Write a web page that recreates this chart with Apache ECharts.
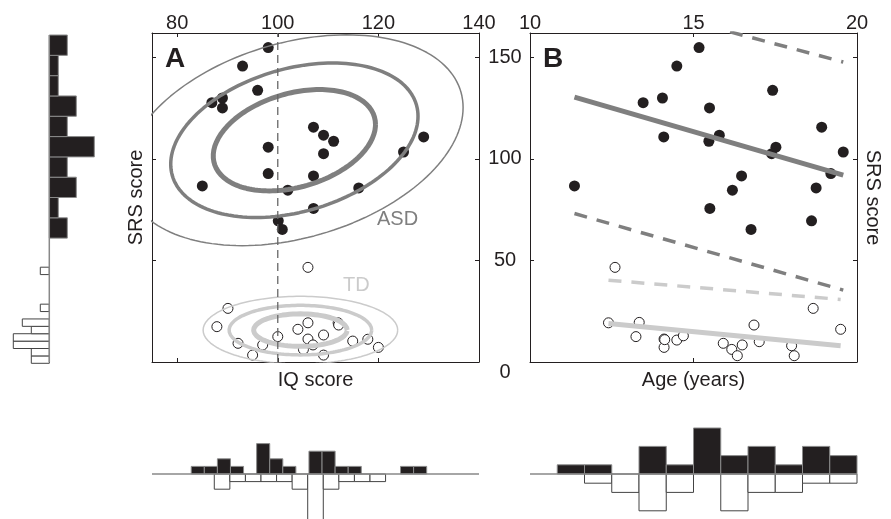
<!DOCTYPE html>
<html>
<head>
<meta charset="utf-8">
<script src="https://cdn.jsdelivr.net/npm/echarts@6/dist/echarts.min.js"></script>
<style>
html, body { margin: 0; padding: 0; background: #fff; }
#chart { width: 891px; height: 519px; }
</style>
</head>
<body>
<div id="chart"></div>
<script>
// ---- subjects: ASD (filled) and TD (open) ----
var asdSRS = [154.8, 145.7, 133.8, 130.0, 127.7, 125.1, 115.6, 111.7, 110.8, 108.7, 105.8, 103.4, 102.6, 92.8, 91.6, 86.7, 85.7, 84.6, 75.6, 69.5, 65.3];
var asdIQ  = [98.1, 93.0, 96.0, 89.0, 86.9, 89.0, 107.1, 109.1, 129.0, 111.1, 98.1, 125.0, 109.1, 98.1, 107.1, 85.0, 116.1, 102.0, 107.1, 100.1, 100.9];
var asdAge = [15.17, 14.49, 17.42, 14.05, 13.46, 15.49, 18.92, 15.79, 14.09, 15.47, 17.52, 19.58, 17.39, 19.20, 16.47, 11.36, 18.75, 16.19, 15.50, 18.61, 16.76];

var tdIQ   = [106.0, 90.1, 87.9, 106.0, 104.0, 112.0, 112.1, 100.0, 109.1, 106.0, 92.1, 97.0, 107.0, 114.9, 117.9, 120.0, 105.1, 95.0, 109.1];
var tdSrsA = [46.6, 26.4, 17.4, 19.3, 16.1, 19.3, 18.2, 12.5, 13.3, 11.3, 9.2, 8.4, 8.4, 10.3, 11.2, 7.2, 6.2, 3.4, 3.4];
var tdAge  = [12.60, 12.40, 13.34, 13.24, 14.10, 14.10, 14.49, 14.69, 15.91, 16.17, 16.34, 16.49, 16.85, 17.01, 18.00, 18.08, 18.66, 19.50, 14.12];
var tdSrsB = [46.6, 19.3, 19.5, 12.5, 11.3, 7.2, 10.8, 12.9, 9.2, 6.2, 3.1, 8.4, 18.2, 10.0, 8.0, 3.1, 26.4, 16.1, 11.0];

// ---- group contours (mean, sd, correlation) in IQ/SRS space ----
var asdMean = [103.3, 109.2], asdSd = [13.7, 21.2], asdRho = 0.31;
var tdMean = [104.5, 15.7], tdSd = [7.9, 6.8], tdRho = 0;
var contourK = [1.177, 1.794, 2.448]; // 50%, 80%, 95% levels

// ---- regression fits vs age (ends at min/max age) ----
var asdFitAge = [11.36, 19.58];
var asdFit = [130.4, 92.0];
var asdUpper = [183.0, 147.7];
var asdLower = [73.1, 35.4];
var tdFitAge = [12.40, 19.50];
var tdFit = [19.0, 8.0];
var tdUpper = [40.3, 30.8];

// ---- marginal histograms ----
var srsAsdCounts = [2, 1, 3, 2, 5, 2, 3, 1, 1, 2];          // from SRS 61, width 10
var srsTdCounts = [2, 2, 4, 4, 2, 3, 0, 1, 0, 0, 0, 0, 1]; // from SRS -0.64, width 3.64
var iqAsdCounts = [0, 0, 0, 1, 1, 2, 1, 0, 4, 2, 1, 0, 3, 3, 1, 1, 0, 0, 0, 1, 1, 0, 0, 0, 0]; // 25 bins 75-140
var iqTdCounts = [0, 0, 0, 0, 2, 1, 1, 1, 1, 2, 6, 2, 1, 1, 1, 0, 0, 0, 0, 0, 0];               // 21 bins 75-140
var ageAsdCounts = [0, 1, 1, 0, 3, 1, 5, 2, 3, 1, 3, 2]; // 12 bins 10-20
var ageTdCounts = [0, 0, 1, 2, 4, 2, 0, 4, 2, 2, 1, 1];

var iqTicks = [80, 100, 120, 140];
var srsTicks = [0, 50, 100, 150];
var ageTicks = [10, 15, 20];

var INK = '#231f20', MID = '#7f7f7f', LIGHT = '#cbcbcb';
var FONT = 'Liberation Sans';

function zip(a, b) {
    return a.map(function(v, i) { return [v, b[i]]; });
}

function ellipse(mean, sd, rho, k) {
    var pts = [];
    for (var i = 0; i <= 160; i++) {
        var t = i / 160 * Math.PI * 2;
        pts.push([
            mean[0] + k * sd[0] * Math.cos(t),
            mean[1] + k * sd[1] * (rho * Math.cos(t) + Math.sqrt(1 - rho * rho) * Math.sin(t))
        ]);
    }
    return pts;
}

function bins(start, width, counts, sign) {
    return counts.map(function(c, i) {
        return [start + i * width, start + (i + 1) * width, sign * c];
    });
}

function histRender(vertical, fill, stroke) {
    return function(params, api) {
        var a = api.value(0), b = api.value(1), c = api.value(2);
        if (!c) return null;
        var p0 = vertical ? api.coord([0, a]) : api.coord([a, 0]);
        var p1 = vertical ? api.coord([c, b]) : api.coord([b, c]);
        return {
            type: 'rect',
            shape: {
                x: Math.min(p0[0], p1[0]), y: Math.min(p0[1], p1[1]),
                width: Math.abs(p1[0] - p0[0]), height: Math.abs(p1[1] - p0[1])
            },
            style: { fill: fill, stroke: stroke, lineWidth: 1 }
        };
    };
}

function boxAxis(extra) {
    var base = {
        type: 'value',
        axisLine: { show: true, onZero: false, lineStyle: { color: INK, width: 1 } },
        axisTick: { show: false },
        axisLabel: { show: false },
        splitLine: { show: false },
        nameTextStyle: { color: INK, fontSize: 20, fontFamily: FONT }
    };
    for (var key in extra) base[key] = extra[key];
    return base;
}

function ticks(values) {
    return { show: true, inside: true, length: 4, customValues: values, lineStyle: { color: INK, width: 1 } };
}

function labels(values, extra) {
    var l = { show: true, customValues: values, color: INK, fontSize: 20, fontFamily: FONT };
    for (var key in extra) l[key] = extra[key];
    return l;
}

var hidden = function(grid, min, max) {
    return { type: 'value', gridIndex: grid, min: min, max: max, show: false };
};

var series = [];
var asdWidths = [5, 3.5, 1.5], tdWidths = [5, 3.5, 1.5];

// panel A contours
contourK.forEach(function(k, i) {
    series.push({
        type: 'line', xAxisIndex: 0, yAxisIndex: 0, showSymbol: false, silent: true,
        data: ellipse(asdMean, asdSd, asdRho, k),
        lineStyle: { color: MID, width: asdWidths[i] }
    });
    series.push({
        type: 'line', xAxisIndex: 0, yAxisIndex: 0, showSymbol: false, silent: true,
        data: ellipse(tdMean, tdSd, tdRho, k),
        lineStyle: { color: LIGHT, width: tdWidths[i] }
    });
});
series.push({
    type: 'line', xAxisIndex: 0, yAxisIndex: 0, showSymbol: false, silent: true,
    data: [[100, 0], [100, 162]],
    lineStyle: { color: '#666', width: 1.3, type: [8, 5] }
});
series.push({
    type: 'scatter', xAxisIndex: 0, yAxisIndex: 0, symbolSize: 11,
    data: zip(asdIQ, asdSRS), itemStyle: { color: INK, opacity: 1 }
});
series.push({
    type: 'scatter', xAxisIndex: 0, yAxisIndex: 0, symbolSize: 10,
    data: zip(tdIQ, tdSrsA), itemStyle: { color: '#fff', borderColor: INK, borderWidth: 1, opacity: 1 }
});

// panel B: points then fits on top
series.push({
    type: 'scatter', xAxisIndex: 2, yAxisIndex: 2, symbolSize: 11,
    data: zip(asdAge, asdSRS), itemStyle: { color: INK, opacity: 1 }
});
series.push({
    type: 'scatter', xAxisIndex: 2, yAxisIndex: 2, symbolSize: 10,
    data: zip(tdAge, tdSrsB), itemStyle: { color: '#fff', borderColor: INK, borderWidth: 1, opacity: 1 }
});
[
    [asdFitAge, asdFit, MID, 'solid', 5],
    [asdFitAge, asdUpper, MID, [13, 10], 3.5],
    [asdFitAge, asdLower, MID, [13, 10], 3.5],
    [tdFitAge, tdFit, LIGHT, 'solid', 5],
    [tdFitAge, tdUpper, LIGHT, [13, 10], 3.5]
].forEach(function(f) {
    series.push({
        type: 'line', xAxisIndex: 2, yAxisIndex: 2, showSymbol: false, silent: true,
        data: zip(f[0], f[1]),
        lineStyle: { color: f[2], type: f[3], width: f[4], cap: 'butt' }
    });
});

// marginal histograms
series.push({
    type: 'line', xAxisIndex: 4, yAxisIndex: 4, showSymbol: false, silent: true,
    data: [[0, 0], [0, 161]], lineStyle: { color: '#888', width: 1.5 }
});
series.push({
    type: 'custom', xAxisIndex: 4, yAxisIndex: 4, silent: true,
    renderItem: histRender(true, INK, '#8a8a8a'), data: bins(61, 10, srsAsdCounts, 1)
});
series.push({
    type: 'custom', xAxisIndex: 4, yAxisIndex: 4, silent: true,
    renderItem: histRender(true, '#fff', '#444'), data: bins(-0.64, 3.64, srsTdCounts, -1)
});
series.push({
    type: 'line', xAxisIndex: 5, yAxisIndex: 5, showSymbol: false, silent: true,
    data: [[75, 0], [140, 0]], lineStyle: { color: '#888', width: 1.5 }
});
series.push({
    type: 'custom', xAxisIndex: 5, yAxisIndex: 5, silent: true,
    renderItem: histRender(false, INK, '#8a8a8a'), data: bins(75, 65 / 25, iqAsdCounts, 1)
});
series.push({
    type: 'custom', xAxisIndex: 5, yAxisIndex: 5, silent: true,
    renderItem: histRender(false, '#fff', '#444'), data: bins(75, 65 / 21, iqTdCounts, -1)
});
series.push({
    type: 'line', xAxisIndex: 6, yAxisIndex: 6, showSymbol: false, silent: true,
    data: [[10, 0], [20, 0]], lineStyle: { color: '#888', width: 1.5 }
});
series.push({
    type: 'custom', xAxisIndex: 6, yAxisIndex: 6, silent: true,
    renderItem: histRender(false, INK, '#8a8a8a'), data: bins(10, 10 / 12, ageAsdCounts, 1)
});
series.push({
    type: 'custom', xAxisIndex: 6, yAxisIndex: 6, silent: true,
    renderItem: histRender(false, '#fff', '#444'), data: bins(10, 10 / 12, ageTdCounts, -1)
});

var chart = echarts.init(document.getElementById('chart'), null, { renderer: 'canvas' });
chart.setOption({
    animation: false,
    backgroundColor: '#fff',
    textStyle: { fontFamily: FONT },
    grid: [
        { left: 152, top: 33, width: 327, height: 329, outerBoundsMode: 'none' },
        { left: 530, top: 33, width: 327, height: 329, outerBoundsMode: 'none' },
        { left: 4.3, top: 33, width: 90, height: 329, outerBoundsMode: 'none' },
        { left: 152, top: 428.4, width: 327, height: 121.6, outerBoundsMode: 'none' },
        { left: 530, top: 418.8, width: 327, height: 110.4, outerBoundsMode: 'none' }
    ],
    xAxis: [
        boxAxis({ gridIndex: 0, position: 'bottom', min: 75, max: 140, axisTick: ticks(iqTicks),
            name: 'IQ score', nameLocation: 'middle', nameGap: 8 }),
        boxAxis({ gridIndex: 0, position: 'top', min: 75, max: 140, axisTick: ticks(iqTicks),
            axisLabel: labels(iqTicks, { margin: 0 }) }),
        boxAxis({ gridIndex: 1, position: 'bottom', min: 10, max: 20, axisTick: ticks([15]),
            name: 'Age (years)', nameLocation: 'middle', nameGap: 8 }),
        boxAxis({ gridIndex: 1, position: 'top', min: 10, max: 20, axisTick: ticks([15]),
            axisLabel: labels(ageTicks, { margin: 0 }) }),
        hidden(2, -5, 5),
        hidden(3, 75, 140),
        hidden(4, 10, 20)
    ],
    yAxis: [
        boxAxis({ gridIndex: 0, position: 'left', min: 0, max: 162, axisTick: ticks([50, 100, 150]),
            name: 'SRS score', nameLocation: 'middle', nameGap: 6, nameRotate: 90 }),
        boxAxis({ gridIndex: 0, position: 'right', min: 0, max: 162, axisTick: ticks([50, 100, 150]),
            axisLabel: labels(srsTicks, {
                align: 'center', margin: 26,
                formatter: function(v) { return v === 0 ? '{z|0}' : String(v); },
                rich: { z: { fontSize: 20, color: INK, fontFamily: FONT, padding: [20, 0, 0, 0] } }
            }) }),
        boxAxis({ gridIndex: 1, position: 'left', min: 0, max: 162, axisTick: ticks([50, 100, 150]) }),
        boxAxis({ gridIndex: 1, position: 'right', min: 0, max: 162, axisTick: ticks([50, 100, 150]),
            name: 'SRS score', nameLocation: 'middle', nameGap: 6, nameRotate: -90 }),
        hidden(2, 0, 162),
        hidden(3, -10, 6),
        hidden(4, -6, 6)
    ],
    graphic: [
        { type: 'text', left: 165, top: 45, style: { text: 'A', font: 'bold 28px "Liberation Sans"', fill: INK } },
        { type: 'text', left: 543, top: 45, style: { text: 'B', font: 'bold 28px "Liberation Sans"', fill: INK } },
        { type: 'text', left: 377, top: 209, style: { text: 'ASD', font: '20px "Liberation Sans"', fill: MID } },
        { type: 'text', left: 343, top: 275, style: { text: 'TD', font: '20px "Liberation Sans"', fill: LIGHT } }
    ],
    series: series
});
</script>
</body>
</html>
